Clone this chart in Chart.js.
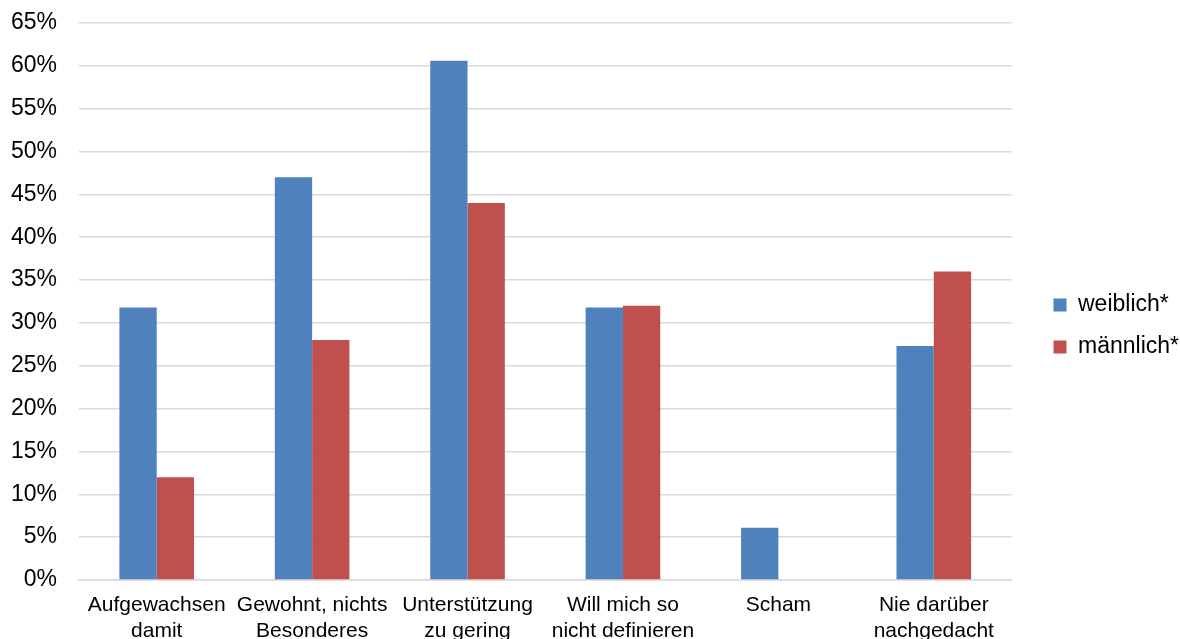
<!DOCTYPE html>
<html>
<head>
<meta charset="utf-8">
<script src="https://cdn.jsdelivr.net/npm/chart.js@4"></script>
<style>
  html, body { margin: 0; padding: 0; background: #fff; }
  #wrap { width: 1180px; height: 639px; position: relative; }
</style>
</head>
<body>
<div id="wrap"><canvas id="grafik"></canvas></div>
<script>
const kategorien = [
  ['Aufgewachsen', 'damit'],
  ['Gewohnt, nichts', 'Besonderes'],
  ['Unterstützung', 'zu gering'],
  ['Will mich so', 'nicht definieren'],
  ['Scham'],
  ['Nie darüber', 'nachgedacht']
];
const weiblich = [31.8, 47.0, 60.6, 31.8, 6.1, 27.3];
const maennlich = [12.0, 28.0, 44.0, 32.0, 0, 36.0];
const serienNamen = ['weiblich*', 'männlich*'];

Chart.defaults.font.family = '"Liberation Sans", Arial, sans-serif';
Chart.defaults.color = '#000';

// legende etwas nach rechts schieben wie im original
const legendeVerschieben = {
  id: 'legendeVerschieben',
  afterLayout(chart) {
    const lg = chart.legend;
    if (!lg) return;
    lg.left += 23;
    lg.right += 23;
    lg.top -= 5;
    lg.bottom -= 5;
  }
};

new Chart(document.getElementById('grafik'), {
  type: 'bar',
  data: {
    labels: kategorien,
    datasets: [
      {
        label: serienNamen[0],
        data: weiblich,
        backgroundColor: '#4f81bd'
      },
      {
        label: serienNamen[1],
        data: maennlich,
        backgroundColor: '#c0504d'
      }
    ]
  },
  options: {
    responsive: true,
    maintainAspectRatio: false,
    animation: false,
    layout: {
      padding: { left: 0, right: 14, top: 23, bottom: 0 }
    },
    datasets: {
      bar: {
        barPercentage: 1.0,
        categoryPercentage: 0.48
      }
    },
    scales: {
      x: {
        grid: { display: false, drawTicks: false },
        border: { display: true, color: '#d9d9d9', width: 1.5 },
        ticks: {
          font: { size: 21 },
          padding: 13,
          maxRotation: 0,
          autoSkip: false
        },
        afterFit(axis) { axis.height = 59; }
      },
      y: {
        min: 0,
        max: 65,
        grid: { color: '#d9d9d9', lineWidth: 1.5, drawTicks: false },
        border: { display: false },
        ticks: {
          stepSize: 5,
          font: { size: 23 },
          padding: 22,
          callback: (v) => v + '%'
        },
        afterFit(axis) {
          axis.width = 79;
          // tick-padding nicht oben/unten draufrechnen
          axis.paddingTop = 0;
          axis.paddingBottom = 0;
        }
      }
    },
    plugins: {
      legend: {
        position: 'right',
        labels: {
          boxWidth: 13,
          boxHeight: 13,
          padding: 19,
          font: { size: 23 }
        }
      },
      tooltip: { enabled: false }
    }
  },
  plugins: [legendeVerschieben]
});
</script>
</body>
</html>
